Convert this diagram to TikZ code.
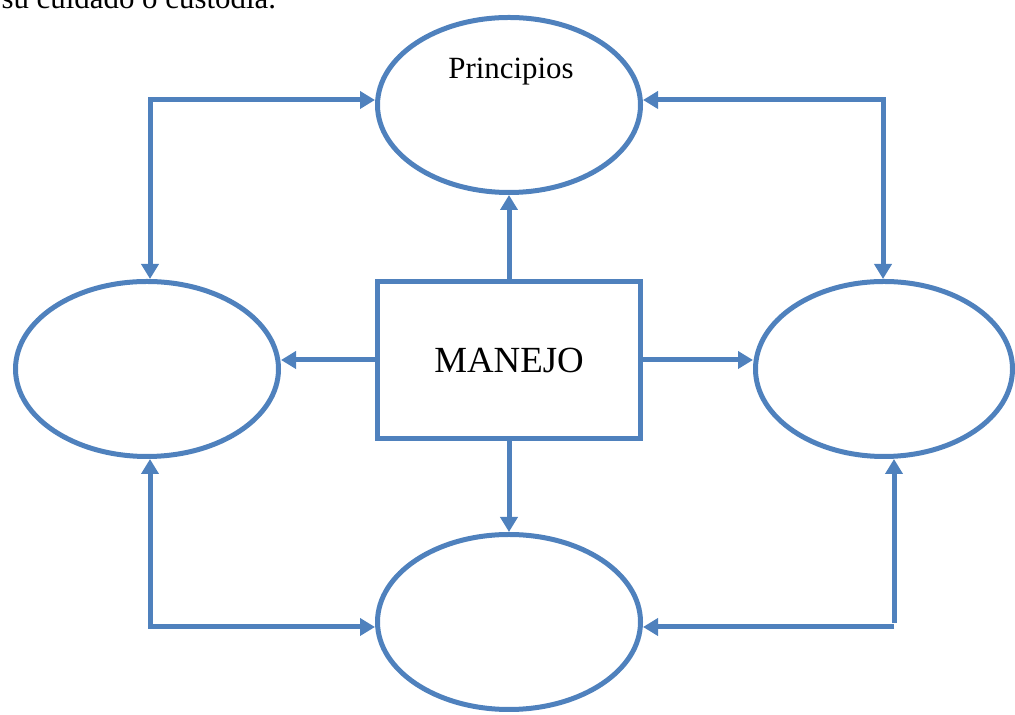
\documentclass[tikz,border=0pt]{standalone}
\usepackage{fontspec}
\setmainfont{Liberation Serif}
\usepackage{tikz}
\usetikzlibrary{arrows.meta, shapes}
\definecolor{azul}{RGB}{79,129,189}
\tikzset{
		idea/.style={draw=azul, line width=5bp, ellipse, minimum width=263bp, minimum height=175bp, inner sep=0pt},
		main box/.style={draw=azul, line width=5bp, rectangle, minimum width=263bp, minimum height=157bp, inner sep=0pt, font=\fontsize{37}{44}\selectfont},
		link/.style={->, draw=azul, line width=5bp}
	}

\begin{document}
\begin{tikzpicture}[x=1bp,y=1bp,>={Triangle[width=17bp,length=15bp]}]
				\useasboundingbox (0,0) rectangle (1015,715);
				\clip (0,0) rectangle (1015,715);
				\node[anchor=base west, font=\fontsize{31}{37}\selectfont] (nota) at (-2,706) {su cuidado o custodia.};

				\node[idea]                      (top)    at (509,610) {};
				\node[idea]                      (izq)    at (147,346) {};
				\node[idea, minimum width=257bp] (der)    at (884,346) {};
				\node[idea]                      (abajo)  at (509,93)  {};
				\node[main box]                  (manejo) at (509,355) {MANEJO};
				\node[font=\fontsize{31}{37}\selectfont] (princ) at (511,643) {Principios};

				\coordinate (tl) at (150,615);
				\coordinate (tr) at (883,615);
				\coordinate (bl) at (150,88);
				\coordinate (br) at (894,92);
				\coordinate (br2) at (894,88);

				\draw[link]      (manejo) -- (top);
				\draw[link]      (manejo) -- (abajo);
				\draw[link]      (manejo.west) -- (manejo.west -| izq.east);
				\draw[link]      (manejo.east) -- (manejo.east -| der.west);
				\draw[link, <->] (izq.north -| tl) |- (top.west |- tl);
				\draw[link, <->] (top.east |- tr) -| (der.north -| tr);
				\draw[link, <->] (izq.south -| bl) |- (abajo.west |- bl);
				\draw[link]      (br) -- (der.south -| br);
				\draw[link]      (br2) -- (abajo.east |- br2);
			\end{tikzpicture}
\end{document}
